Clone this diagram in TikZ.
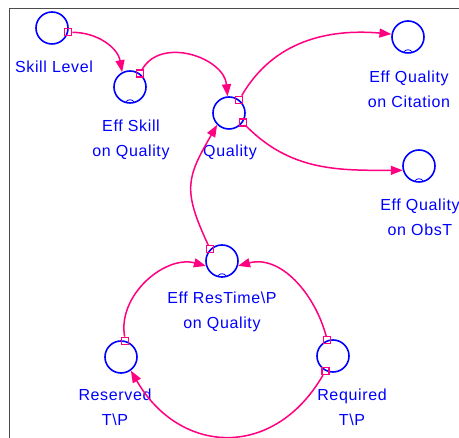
\documentclass[tikz,border=0pt]{standalone}
\usepackage{fontspec}
\setmainfont[LetterSpace=4]{Liberation Sans}
\usetikzlibrary{positioning,arrows.meta}
\definecolor{vblue}{RGB}{0,0,255}
\definecolor{vpink}{RGB}{255,0,128}

\begin{document}
\begin{tikzpicture}[x=1pt, y=-1pt,
    aux/.style={draw=vblue, circle, line width=1.6pt, minimum size=32pt, inner sep=0pt},
    lbl/.style={text=vblue, align=center, font=\fontsize{16}{25}\selectfont, inner sep=0pt},
    tail/.style={draw=vpink, rectangle, line width=1.3pt, minimum size=7pt, inner sep=0pt},
    link/.style={draw=vpink, line width=1.5pt, -{Triangle[length=12pt,width=9pt]}},
    tilde/.style={draw=vblue, line width=0.8pt}]
    \useasboundingbox (0,0) rectangle (459,438);
    % Frame
    \draw [black!70, line width=1pt] (9,438) -- (9,9) -- (459,9);

    % Variables
    \node [aux] (skill) at (52,28) {};
    \node [aux] (effskill) at (130,87) {};
    \node [aux] (quality) at (229,113) {};
    \node [aux] (effcit) at (408,37) {};
    \node [aux] (effobs) at (419,166) {};
    \node [aux] (effres) at (222,261) {};
    \node [aux] (reserved) at (121,357) {};
    \node [aux] (required) at (333,356) {};

    % Labels
    \node [lbl] (skilllbl) at (54,67) {Skill Level};
    \node [lbl] (effskilllbl) at (131,140) {Eff Skill\\on Quality};
    \node [lbl] (qualitylbl) at (230,152) {Quality};
    \node [lbl] (effcitlbl) at (409,89) {Eff Quality\\on Citation};
    \node [lbl] (effobslbl) at (420,217) {Eff Quality\\on ObsT};
    \node [lbl] (effreslbl) at (222,312) {Eff ResTime\textbackslash P\\on Quality};
    \node [lbl] (reservedlbl) at (115,407) {Reserved\\T\textbackslash P};
    \node [lbl] (requiredlbl) at (352,407) {Required\\T\textbackslash P};

    % Lookup marks
    \draw [tilde] ([xshift=-4pt,yshift=2pt]effskill.south) to[bend left=60] ([xshift=4pt,yshift=2pt]effskill.south);
    \draw [tilde] ([xshift=-4pt,yshift=2pt]effcit.south) to[bend left=60] ([xshift=4pt,yshift=2pt]effcit.south);
    \draw [tilde] ([xshift=-4pt,yshift=2pt]effobs.south) to[bend left=60] ([xshift=4pt,yshift=2pt]effobs.south);
    \draw [tilde] ([xshift=-4pt,yshift=2pt]effres.south) to[bend left=60] ([xshift=4pt,yshift=2pt]effres.south);

    % Link tails
    \node [tail] (t1) at (skill.-15) {};
    \node [tail] (t2) at (effskill.54) {};
    \node [tail] (t3) at (quality.52) {};
    \node [tail] (t4) at (quality.-35) {};
    \node [tail] (t5) at (effres.135) {};
    \node [tail] (t6) at (reserved.75) {};
    \node [tail] (t7) at (required.110) {};
    \node [tail] (t8) at (required.-117) {};

    % Links
    \draw [link] (t1) to[out=0, in=100] (effskill.118);
    \draw [link] (t2) to[out=60, in=95, looseness=1.1] (quality.95);
    \draw [link] (t3) to[out=60, in=175] (effcit.170);
    \draw [link] (t4) to[out=-45, in=180] (effobs.195);
    \draw [link] (t5) to[out=115, in=-120, looseness=1.3] (quality.225);
    \draw [link] (t6) to[out=100, in=165] (effres.197);
    \draw [link] (t7) to[out=105, in=15] (effres.-17);
    \draw [link] (t8) to[out=-120, in=-60, looseness=1.3] (reserved.-54);
  \end{tikzpicture}
\end{document}
